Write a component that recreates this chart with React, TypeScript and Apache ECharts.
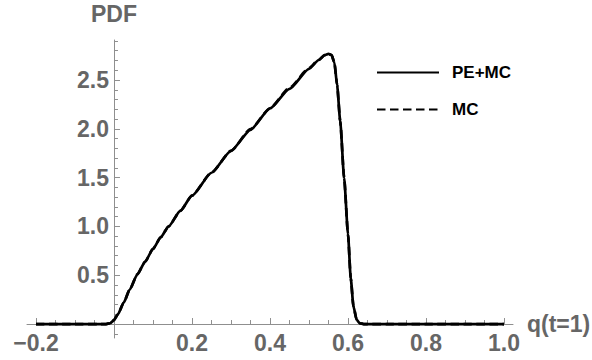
import React, { useEffect, useRef } from "react";
import * as echarts from "echarts";

const qValues = [-0.2, -0.1, -0.04, -0.02, -0.01, 0, 0.01, 0.025, 0.04, 0.06, 0.08, 0.1, 0.12, 0.14, 0.17, 0.2, 0.25, 0.3, 0.35, 0.4, 0.45, 0.5, 0.525, 0.54, 0.55, 0.558, 0.565, 0.572, 0.58, 0.59, 0.6, 0.607, 0.614, 0.622, 0.63, 0.64, 0.7, 0.8, 0.9, 1.0];
const pemcValues = [0, 0, 0, 0, 0.008, 0.04, 0.1, 0.22, 0.35, 0.51, 0.64, 0.77, 0.89, 1.0, 1.16, 1.315, 1.55, 1.775, 1.99, 2.21, 2.41, 2.615, 2.705, 2.755, 2.768, 2.755, 2.68, 2.45, 2.08, 1.5, 0.92, 0.47, 0.18, 0.045, 0.008, 0, 0, 0, 0, 0];
const mcValues = [0, 0, 0, 0, 0.008, 0.04, 0.1, 0.22, 0.35, 0.51, 0.64, 0.77, 0.89, 1.0, 1.16, 1.315, 1.552, 1.775, 1.996, 2.21, 2.42, 2.622, 2.708, 2.755, 2.768, 2.755, 2.68, 2.45, 2.08, 1.5, 0.92, 0.47, 0.18, 0.045, 0.008, 0, 0, 0, 0, 0];

const xMajor = [-0.2, 0.2, 0.4, 0.6, 0.8, 1.0];
const xMinor = [-0.15, -0.1, -0.05, 0.05, 0.1, 0.15, 0.25, 0.3, 0.35, 0.45, 0.5, 0.55, 0.65, 0.7, 0.75, 0.85, 0.9, 0.95];
const yMajor = [0.5, 1.0, 1.5, 2.0, 2.5];
const yMinor = [-0.1, 0.1, 0.2, 0.3, 0.4, 0.6, 0.7, 0.8, 0.9, 1.1, 1.2, 1.3, 1.4, 1.6, 1.7, 1.8, 1.9, 2.1, 2.2, 2.3, 2.4, 2.6, 2.7, 2.8, 2.9];

const X_MIN = -0.223;
const X_MAX = 1.023;
const Y_MIN = -0.143;
const Y_MAX = 2.91;

const FONT = "Arial, 'Liberation Sans', sans-serif";
const AXIS_COLOR = "#8f8f8f";
const LABEL_COLOR = "#666666";

const fmt = (v: number) => (v < 0 ? "\u2212" + Math.abs(v).toFixed(1) : v.toFixed(1));

export default function App() {
  const ref = useRef<HTMLDivElement>(null);
  useEffect(() => {
    if (!ref.current) return;
    const chart = echarts.init(ref.current, undefined, { renderer: "svg" });
    const G = { left: 27, right: 79, top: 40, bottom: 22 };
    const grid = { ...G, outerBoundsMode: "none", containLabel: false };
    const W = 592 - G.left - G.right;
    const H = 360 - G.top - G.bottom;
    // offsets placing each axis where the other axis is zero (negative = into the grid)
    const xOffset = -(H * (0 - Y_MIN)) / (Y_MAX - Y_MIN);
    const yOffset = -(W * (0 - X_MIN)) / (X_MAX - X_MIN);
    const pemc = qValues.map((q, i) => [q, pemcValues[i]]);
    const mc = qValues.map((q, i) => [q, mcValues[i]]);
    chart.setOption({
      animation: false,
      backgroundColor: "#ffffff",
      grid: [grid, { ...grid }],
      legend: {
        orient: "vertical",
        left: 371,
        top: 59,
        itemWidth: 62,
        itemHeight: 14,
        itemGap: 20,
        itemStyle: { color: "rgba(0,0,0,0)", opacity: 0, borderWidth: 0 },
        textStyle: { fontFamily: FONT, fontWeight: "bold", fontSize: 17, color: "#000", padding: [0, 0, 0, 8] },
        data: ["PE+MC", "MC"],
      },
      xAxis: [
        {
          type: "value",
          gridIndex: 0,
          position: "bottom",
          offset: xOffset,
          min: X_MIN,
          max: X_MAX,
          name: "q(t=1)",
          nameLocation: "end",
          nameGap: 14,
          nameTextStyle: { fontFamily: FONT, fontWeight: "bold", fontSize: 23, color: LABEL_COLOR, verticalAlign: "middle" },
          axisLine: { show: true, onZero: false, lineStyle: { color: AXIS_COLOR, width: 1 } },
          axisTick: { show: true, inside: true, length: 6, customValues: xMajor, lineStyle: { color: AXIS_COLOR } },
          axisLabel: { show: true, customValues: xMajor, formatter: fmt, margin: 7, fontFamily: FONT, fontWeight: "bold", fontSize: 23, color: LABEL_COLOR },
          splitLine: { show: false },
        },
        {
          type: "value",
          gridIndex: 1,
          position: "bottom",
          offset: xOffset,
          min: X_MIN,
          max: X_MAX,
          axisLine: { show: false, onZero: false },
          axisTick: { show: true, inside: true, length: 4, customValues: xMinor, lineStyle: { color: AXIS_COLOR } },
          axisLabel: { show: false },
          splitLine: { show: false },
        },
      ],
      yAxis: [
        {
          type: "value",
          gridIndex: 0,
          position: "left",
          offset: yOffset,
          min: Y_MIN,
          max: Y_MAX,
          name: "PDF",
          nameLocation: "end",
          nameGap: 15,
          nameTextStyle: { fontFamily: FONT, fontWeight: "bold", fontSize: 23, color: LABEL_COLOR, align: "center" },
          axisLine: { show: true, onZero: false, lineStyle: { color: AXIS_COLOR, width: 1 } },
          axisTick: { show: true, inside: true, length: 6, customValues: yMajor, lineStyle: { color: AXIS_COLOR } },
          axisLabel: { show: true, customValues: yMajor, formatter: fmt, margin: 5, fontFamily: FONT, fontWeight: "bold", fontSize: 23, color: LABEL_COLOR },
          splitLine: { show: false },
        },
        {
          type: "value",
          gridIndex: 1,
          position: "left",
          offset: yOffset,
          min: Y_MIN,
          max: Y_MAX,
          axisLine: { show: false, onZero: false },
          axisTick: { show: true, inside: true, length: 4, customValues: yMinor, lineStyle: { color: AXIS_COLOR } },
          axisLabel: { show: false },
          splitLine: { show: false },
        },
      ],
      series: [
        {
          name: "MC",
          type: "line",
          xAxisIndex: 0,
          yAxisIndex: 0,
          data: mc,
          symbol: "none",
          showSymbol: false,
          smooth: 0.2,
          smoothMonotone: "x",
          z: 2,
          lineStyle: { color: "#000", width: 2.7, type: [8.5, 4.5] },
          itemStyle: { color: "#000" },
        },
        {
          name: "PE+MC",
          type: "line",
          xAxisIndex: 0,
          yAxisIndex: 0,
          data: pemc,
          symbol: "none",
          showSymbol: false,
          smooth: 0.2,
          smoothMonotone: "x",
          z: 3,
          lineStyle: { color: "#000", width: 2.7, type: "solid" },
          itemStyle: { color: "#000" },
        },
      ],
    });
    return () => chart.dispose();
  }, []);
  return (
    <div
      ref={ref}
      style={{ position: "fixed", left: 0, top: 0, width: 592, height: 360, background: "#fff" }}
    />
  );
}
